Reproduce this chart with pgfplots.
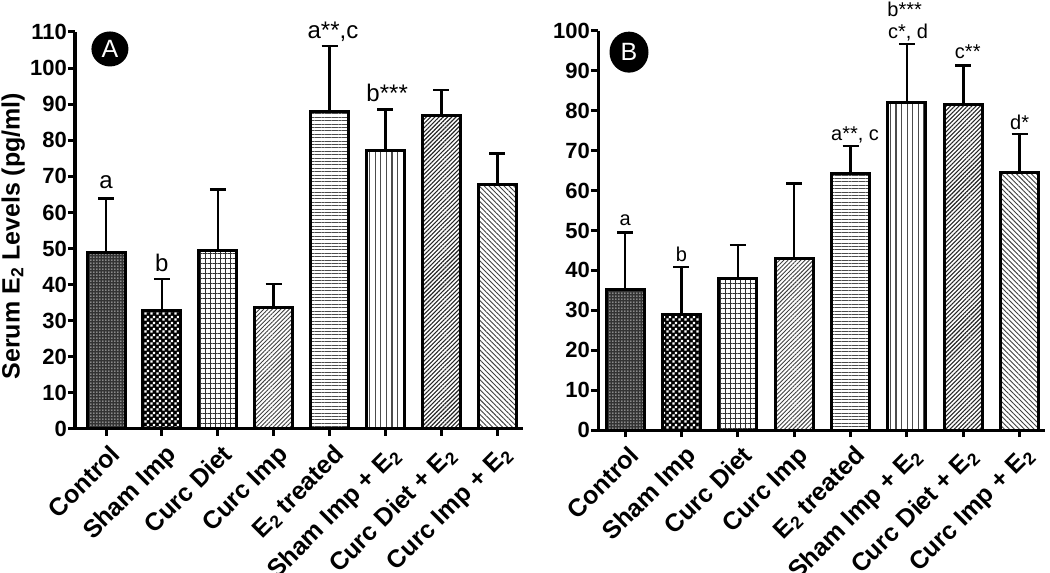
\documentclass[border=0pt]{standalone}
\usepackage{fontspec}
\setmainfont{Liberation Sans}
\usepackage{pgfplots}
\pgfplotsset{compat=1.18}
\usetikzlibrary{patterns,patterns.meta,shapes.geometric}

\pgfdeclarepatternformonly{mychecker}{\pgfpointorigin}{\pgfqpoint{6pt}{6pt}}{\pgfqpoint{6pt}{6pt}}{%
  \pgfpathrectangle{\pgfqpoint{0.3pt}{0.3pt}}{\pgfqpoint{2.6pt}{2.6pt}}%
  \pgfpathrectangle{\pgfqpoint{3.3pt}{3.3pt}}{\pgfqpoint{2.6pt}{2.6pt}}%
  \pgfusepath{fill}}
\pgfdeclarepatternformonly{mydots}{\pgfpointorigin}{\pgfqpoint{3pt}{3pt}}{\pgfqpoint{3pt}{3pt}}{%
  \pgfpathrectangle{\pgfqpoint{0.6pt}{0.6pt}}{\pgfqpoint{1.3pt}{1.3pt}}%
  \pgfusepath{fill}}

\newcommand{\fs}[1]{\fontsize{#1}{#1}\selectfont}

\pgfplotsset{
  panel/.style={
    scale only axis,
    ybar,
    bar width=38pt,
    axis lines=left,
    axis line style={-, line width=3pt, black},
    tick style={black, line width=3pt},
    major tick length=7pt,
    tick align=outside,
    xtick={0,...,7},
    xticklabels={Control, Sham Imp, Curc Diet, Curc Imp, E\textsubscript{2} treated, Sham Imp + E\textsubscript{2}, Curc Diet + E\textsubscript{2}, Curc Imp + E\textsubscript{2}},
    xticklabel style={rotate=45, anchor=north east, font=\bfseries\fs{25}, inner sep=1pt, yshift=-6pt, xshift=-2pt},
    yticklabel style={font=\bfseries\fs{22}, inner sep=1pt},
    /pgf/number format/assume math mode=true,
    ymin=0,
    clip=false,
  },
  mybar/.style={
    bar shift=0pt, draw=black, line width=3pt,
    error bars/y dir=plus, error bars/y explicit,
    error bars/error bar style={line width=2.5pt, black, solid},
    error bars/error mark options={rotate=90, line width=2.5pt, mark size=8pt, black},
  },
  gridpat/.style={pattern={Lines[angle=0,distance=5pt,line width=0.9pt]}, pattern color=black!80,
     postaction={pattern={Lines[angle=90,distance=5pt,line width=0.9pt]}, pattern color=black!80}},
}

\begin{document}
\begin{tikzpicture}
\useasboundingbox (0,0) rectangle (1050pt,573pt);

% ---------------- Panel A ----------------
\begin{axis}[panel,
  at={(75pt,144pt)}, anchor=south west,
  width=448pt, height=397pt,
  xmin=-0.555, xmax=7.46,
  ymax=110, ytick={0,10,...,110},
  ylabel={Serum E\textsubscript{2} Levels (pg/ml)},
  every axis y label/.style={at={(axis description cs:-0.138,0.486)}, rotate=90, anchor=center, font=\bfseries\fs{25}},
]
\addplot[mybar, fill=black!80, postaction={pattern=mydots, pattern color=white}] coordinates {(0,48.9) +- (0,15.0)};
\addplot[mybar, fill=black, postaction={pattern=mychecker, pattern color=white}] coordinates {(1,32.7) +- (0,8.9)};
\addplot[mybar, gridpat] coordinates {(2,49.4) +- (0,17.0)};
\addplot[mybar, pattern={Lines[angle=45,distance=3pt,line width=0.9pt]}, pattern color=black!75] coordinates {(3,33.6) +- (0,6.6)};
\addplot[mybar, pattern={Lines[angle=0,distance=3.4pt,line width=1pt]}, pattern color=black!70] coordinates {(4,88.1) +- (0,18.0)};
\addplot[mybar, pattern={Lines[angle=90,distance=5.6pt,line width=1.1pt]}, pattern color=black!70] coordinates {(5,77.2) +- (0,11.3)};
\addplot[mybar, pattern={Lines[angle=45,distance=3pt,line width=1.1pt]}, pattern color=black!85] coordinates {(6,86.9) +- (0,7.0)};
\addplot[mybar, pattern={Lines[angle=-45,distance=3.5pt,line width=0.9pt]}, pattern color=black!75] coordinates {(7,67.8) +- (0,8.5)};

\node[font=\fs{24}] at (axis cs:0,68.4) {a};
\node[font=\fs{24}] at (axis cs:1,46.0) {b};
\node[font=\fs{24}] at (axis cs:4.06,110.0) {a**,c};
\node[font=\fs{24}] at (axis cs:5.03,93.1) {b***};
\node[ellipse, fill=black, text=white, minimum width=37pt, minimum height=35pt, inner sep=0pt, font=\fs{25}] at (axis cs:0.07,105.3) {A};
\end{axis}

% ---------------- Panel B ----------------
\begin{axis}[panel,
  at={(598pt,143pt)}, anchor=south west,
  width=447pt, height=399pt,
  xmin=-0.48, xmax=7.45,
  ymax=100, ytick={0,10,...,100},
]
\addplot[mybar, fill=black!80, postaction={pattern=mydots, pattern color=white}] coordinates {(0,35.3) +- (0,14.2)};
\addplot[mybar, fill=black, postaction={pattern=mychecker, pattern color=white}] coordinates {(1,29.0) +- (0,11.9)};
\addplot[mybar, gridpat] coordinates {(2,38.0) +- (0,8.4)};
\addplot[mybar, pattern={Lines[angle=45,distance=3pt,line width=0.9pt]}, pattern color=black!75] coordinates {(3,43.0) +- (0,18.8)};
\addplot[mybar, pattern={Lines[angle=0,distance=3.4pt,line width=1pt]}, pattern color=black!70] coordinates {(4,64.2) +- (0,7.0)};
\addplot[mybar, pattern={Lines[angle=90,distance=5.6pt,line width=1.1pt]}, pattern color=black!70] coordinates {(5,82.1) +- (0,14.6)};
\addplot[mybar, pattern={Lines[angle=45,distance=3pt,line width=1.1pt]}, pattern color=black!85] coordinates {(6,81.5) +- (0,9.9)};
\addplot[mybar, pattern={Lines[angle=-45,distance=3.5pt,line width=0.9pt]}, pattern color=black!75] coordinates {(7,64.5) +- (0,9.7)};

\node[font=\fs{20}] at (axis cs:0,52.6) {a};
\node[font=\fs{20}] at (axis cs:1,43.9) {b};
\node[font=\fs{20}] at (axis cs:4.08,73.9) {a**, c};
\node[font=\fs{20}] at (axis cs:4.96,105.5) {b***};
\node[font=\fs{20}] at (axis cs:5.02,99.7) {c*, d};
\node[font=\fs{20}] at (axis cs:6.08,94.7) {c**};
\node[font=\fs{20}] at (axis cs:7.0,77.2) {d*};
\node[ellipse, fill=black, text=white, minimum width=39pt, minimum height=41pt, inner sep=0pt, font=\fs{25}] at (axis cs:0.07,94.7) {B};
\end{axis}
\end{tikzpicture}
\end{document}
